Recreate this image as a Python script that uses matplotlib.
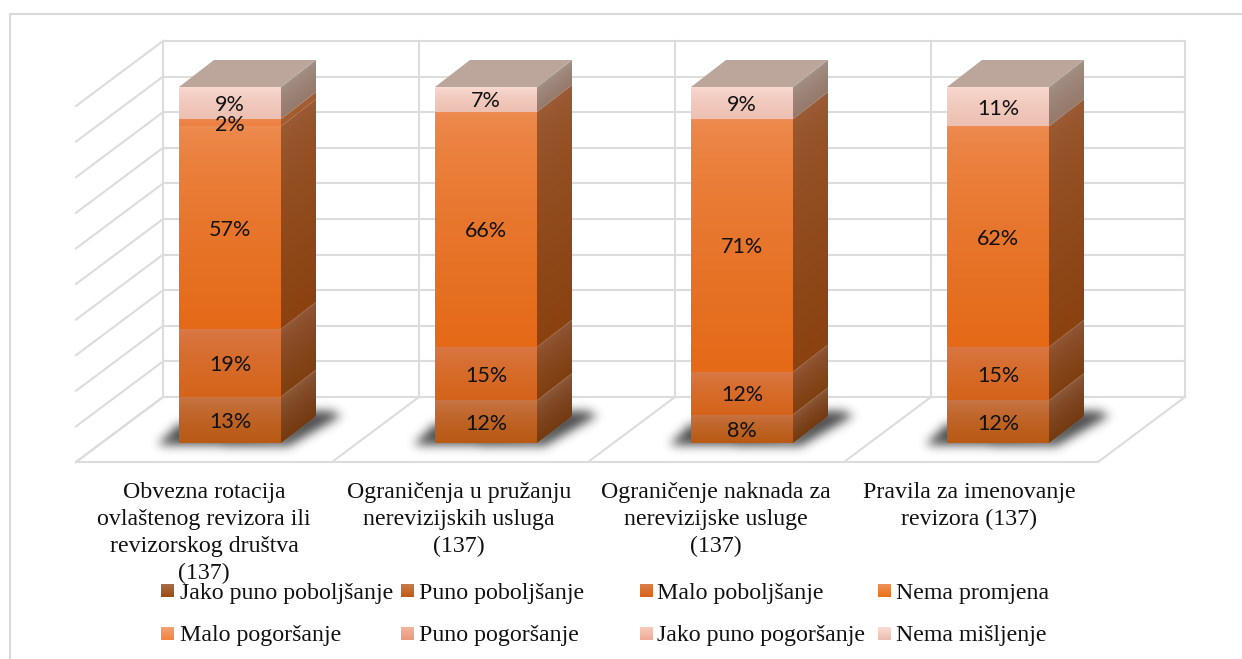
import numpy as np
import matplotlib
matplotlib.use('Agg')
import matplotlib.pyplot as plt
from matplotlib.colors import to_rgb
from matplotlib.patches import Polygon
from matplotlib.path import Path

categories = ['Obvezna rotacija\novlaštenog revizora ili\nrevizorskog društva\n(137)',
              'Ograničenja u pružanju\nnerevizijskih usluga\n(137)',
              'Ograničenje naknada za\nnerevizijske usluge\n(137)',
              'Pravila za imenovanje\nrevizora (137)']
series_names = ['Jako puno poboljšanje', 'Puno poboljšanje', 'Malo poboljšanje', 'Nema promjena',
                'Malo pogoršanje', 'Puno pogoršanje', 'Jako puno pogoršanje', 'Nema mišljenje']
jako_puno_pob = [0, 0, 0, 0]
puno_pob = [13, 12, 8, 12]
malo_pob = [19, 15, 12, 15]
nema_promjena = [57, 66, 71, 62]
malo_pog = [2, 0, 0, 0]
puno_pog = [0, 0, 0, 0]
jako_puno_pog = [0, 0, 0, 0]
nema_misljenje = [9, 7, 9, 11]
all_series = [jako_puno_pob, puno_pob, malo_pob, nema_promjena, malo_pog, puno_pog, jako_puno_pog, nema_misljenje]

# front face gradient per series, top colour then bottom colour
front_colors = [('#a5623a', '#8f4a12'), ('#c9774a', '#b95a14'), ('#d97a4a', '#d5641a'), ('#ee8c52', '#e46a18'),
                ('#ee8a50', '#ec7f42'), ('#f2a98c', '#e89a7c'), ('#f6c4b2', '#efb0a0'), ('#fbdcd2', '#ecc0b2')]
side_colors = [('#7d4a2c', '#6a350c'), ('#8f5c3e', '#753a10'), ('#93593a', '#7f3f10'), ('#9c5c36', '#8a4210'),
               ('#a86034', '#a05c30'), ('#a8806c', '#a07060'), ('#a89488', '#a08878'), ('#a59388', '#967a6c')]
legend_colors = [('#a96b48', '#9c4e12'), ('#c97a4a', '#c05c14'), ('#dd7d48', '#d8641a'), ('#ef9058', '#ea7018'),
                 ('#f4a070', '#f28540'), ('#f4b49c', '#e9987c'), ('#f8cabc', '#efaa98'), ('#fbdcd2', '#ebbdb0')]
lid_color = '#bca59b'
grid_color = '#dcdcdc'

fig = plt.figure(figsize=(12.42, 6.59), dpi=100)
ax = fig.add_axes([0, 0, 1, 1])
ax.set_xlim(0, 1242)
ax.set_ylim(659, 0)
ax.axis('off')

base_y = 443
px_per_pct = 3.56
first_x = 179
step_x = 256
bar_w = 102
dx = 35
dy = 27


def face(corners, c_top, c_bottom, shear=0.0, gamma=0.6, z=3):
    # gradient filled polygon, top to bottom, clipped to the corners
    xs = [c[0] for c in corners]
    ys = [c[1] for c in corners]
    x0, x1, y0, y1 = min(xs), max(xs), min(ys), max(ys)
    h = max(y1 - y0, 1)
    w = max(x1 - x0, 1)
    nx = int(w) + 2
    ny = int(h) + 2
    gx, gy = np.meshgrid(np.linspace(0, 1, nx), np.linspace(0, 1, ny))
    span = 1 - shear
    t = np.clip((gy - shear * (1 - gx)) / span, 0, 1) ** gamma
    c0 = np.array(to_rgb(c_top))
    c1 = np.array(to_rgb(c_bottom))
    img = c0[None, None, :] * (1 - t[..., None]) + c1[None, None, :] * t[..., None]
    im = ax.imshow(img, extent=(x0, x1, y1, y0), aspect='auto', zorder=z, interpolation='bilinear')
    im.set_clip_path(Polygon(corners, closed=True, transform=ax.transData))


def make_shadow():
    # soft floor shadow behind a bar, offsets from the bar's front left corner
    pts = [(-22, 1), (108, 3), (162, -28), (150, -33), (130, -33), (100, -6), (0, -20)]
    w, h = 240, 80
    gx, gy = np.meshgrid(np.arange(w) - 40, np.arange(h) - 55)
    inside = Path(pts).contains_points(np.c_[gx.ravel(), gy.ravel()]).reshape(h, w).astype(float)
    kernel = np.exp(-np.arange(-15, 16) ** 2 / (2 * 5.0 ** 2))
    kernel /= kernel.sum()
    for axis in (0, 1):
        inside = np.apply_along_axis(lambda r: np.convolve(r, kernel, mode='same'), axis, inside)
    rgba = np.zeros((h, w, 4))
    rgba[..., :3] = 0.22
    rgba[..., 3] = inside * 0.9
    return rgba


# walls and floor
wall_x = [163 + step_x * i for i in range(4)] + [1185]
for i in range(11):
    y = base_y - 46 - (px_per_pct * 10) * i
    ax.plot([163, 1185], [y, y], color=grid_color, lw=1.5, zorder=1)
    ax.plot([163, 76], [y, y + 65], color=grid_color, lw=1.5, zorder=1)
for x in wall_x:
    ax.plot([x, x], [41, 397], color=grid_color, lw=1.5, zorder=1)
    ax.plot([x, x - 87], [397, 462], color=grid_color, lw=1.5, zorder=1)
ax.plot([76, 1098], [462, 462], color=grid_color, lw=1.5, zorder=1)

# chart frame
ax.plot([10, 10, 1242], [659, 14, 14], color='#d9d9d9', lw=1.5, zorder=1)

shadow = make_shadow()
for i in range(len(categories)):
    x = first_x + step_x * i
    ax.imshow(shadow, extent=(x - 40, x + 200, base_y + 25, base_y - 55), aspect='auto', zorder=2)
    total = 0
    for s, vals in enumerate(all_series):
        v = vals[i]
        if v == 0:
            continue
        yb = base_y - total * px_per_pct
        yt = base_y - (total + v) * px_per_pct
        total += v
        face([(x, yb), (x + bar_w, yb), (x + bar_w, yt), (x, yt)], front_colors[s][0], front_colors[s][1], z=4)
        face([(x + bar_w, yb), (x + bar_w + dx, yb - dy), (x + bar_w + dx, yt - dy), (x + bar_w, yt)],
             side_colors[s][0], side_colors[s][1], shear=dy / (yb - yt + dy), z=3)
        ax.text(x + bar_w / 2, (yb + yt) / 2 + 2, '%d%%' % v, ha='center', va='center', fontsize=15.5,
                family='Lato', color='#111111', zorder=6)
    top_y = base_y - total * px_per_pct
    ax.add_patch(Polygon([(x, top_y), (x + dx, top_y - dy), (x + bar_w + dx, top_y - dy), (x + bar_w, top_y)],
                         closed=True, facecolor=lid_color, edgecolor='none', zorder=5))

# category labels
label_x = [204, 459, 716, 969]
for lx, name in zip(label_x, categories):
    ax.text(lx, 482, name, ha='center', va='top', fontsize=17.2, family='Liberation Serif',
            color='#111111', linespacing=1.37, zorder=5)

# legend
swatch_x = [161, 401, 640, 878]
text_x = [180, 419, 657, 896]
swatch_y = [584, 627]
base_line = [599, 641]
for s, name in enumerate(series_names):
    row = s // 4
    col = s % 4
    x0 = swatch_x[col]
    y0 = swatch_y[row]
    face([(x0, y0), (x0 + 13, y0), (x0 + 13, y0 + 13), (x0, y0 + 13)], legend_colors[s][0], legend_colors[s][1],
         gamma=1.0, z=5)
    ax.text(text_x[col], base_line[row], name, ha='left', va='baseline', fontsize=17.2,
            family='Liberation Serif', color='#111111', zorder=6)

ax.set_xlim(0, 1242)
ax.set_ylim(659, 0)
fig.savefig('out.png', dpi=100, facecolor='white')
